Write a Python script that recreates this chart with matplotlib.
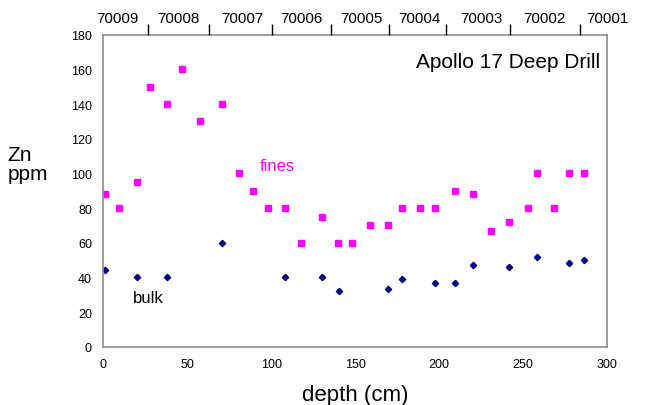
import numpy as np
import matplotlib.pyplot as plt

plt.rcParams['font.family'] = ['Liberation Sans', 'DejaVu Sans']

# fines (< 1 mm) Zn, ppm
prof_fines = [1, 9.5, 20.5, 28, 38, 47, 58, 70.5, 81, 89.5, 98, 108.5,
              117.5, 130.5, 140, 148, 159, 169.5, 178, 188.5, 197.5,
              209.5, 220, 231, 241.5, 253, 258, 268.5, 277.5, 286]
zn_fines = [88, 80, 95, 150, 140, 160, 130, 140, 100, 90, 80, 80,
            60, 75, 60, 60, 70, 70, 80, 80, 80,
            90, 88, 67, 72, 80, 100, 80, 100, 100]

# bulk Zn, ppm
prof_bulk = [1, 20.5, 38, 71, 108.5, 130.5, 140.5, 169.5, 178, 197.5,
             209.5, 220, 241.5, 258, 277.5, 286]
zn_bulk = [44, 40, 40, 60, 40, 40, 32, 33, 39, 37,
           37, 47, 46, 52, 48, 50]

# drill stem sections along the core
secoes = ['70009', '70008', '70007', '70006', '70005',
          '70004', '70003', '70002', '70001']
limites = [27, 64.2, 102.3, 138, 173.7, 207.8, 247.1, 289.3]
centros = [9, 45.8, 84.5, 120.2, 156.9, 191.6, 229.3, 267.5, 305.8]

fig = plt.figure(figsize=(6.45, 4.06), dpi=100)
ax = fig.add_axes([0.1597, 0.1436, 0.7818, 0.7685])

ax.plot(prof_fines, zn_fines, 's', color='#ff00ff', ms=4.2, mec='#ff00ff')
ax.plot(prof_bulk, zn_bulk, 'D', color='#000080', ms=3.2, mec='#000080')

ax.set_xlim(0, 300)
ax.set_ylim(0, 180)
ax.set_xticks(np.arange(0, 301, 50))
ax.set_yticks(np.arange(0, 181, 20))
ax.tick_params(length=0, labelsize=9, pad=8)
for s in ax.spines.values():
    s.set_color('#8c8c8c')
    s.set_linewidth(1.2)

# top axis: section boundaries + names
top = ax.twiny()
top.set_xlim(0, 300)
top.set_xticks(limites)
top.set_xticklabels([])
top.set_xticks(centros, minor=True)
top.set_xticklabels(secoes, minor=True)
top.tick_params(which='major', length=8, width=1, color='black', direction='out')
top.tick_params(which='minor', length=0, labelsize=11, pad=7)
for lab in top.get_xticklabels(minor=True):
    lab.set_clip_on(False)
for s in top.spines.values():
    s.set_visible(False)

ax.text(0.985, 0.945, 'Apollo 17 Deep Drill', transform=ax.transAxes,
        ha='right', va='top', fontsize=15)
ax.text(93.4, 104.3, 'fines', color='#ff00ff', fontsize=12, va='center')
ax.text(17.7, 28.5, 'bulk', color='black', fontsize=12, va='center')

fig.text(0.012, 1 - 165 / 406, 'Zn\nppm', ha='left', va='center',
         fontsize=15, linespacing=1.05)
ax.set_xlabel('depth (cm)', fontsize=16, labelpad=10)

plt.savefig('out.png', dpi=100)
